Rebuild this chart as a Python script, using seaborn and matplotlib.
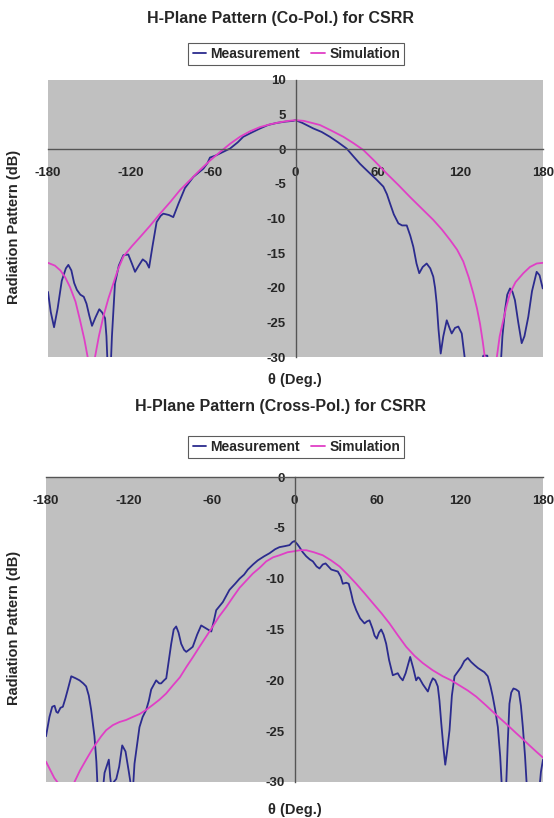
import pandas as pd
import matplotlib
matplotlib.use("Agg")
import matplotlib.pyplot as plt
import seaborn as sns

# --- Co-Pol. (top chart) ---
co_meas_deg = [-180, -178, -175.6, -173, -170, -167, -165.2, -163, -161, -159, -156.5, -154, -152, -150,
               -148, -145.5, -142.7, -140.5, -138.5, -137.5, -136.5, -134.5, -133.5, -131.3, -128.5,
               -125.2, -121.6, -119, -116.7, -114, -111.1, -108.5, -106.5, -104, -101, -98, -96.1, -92,
               -88.9, -85, -80.4, -74.3, -67, -64, -62.2, -58, -54.9, -47.6, -42, -38, -32, -25.8, -20,
               -13.7, -7, -1.6, 0, 5, 9, 13, 19, 25, 31, 37.2, 42, 46.9, 50, 54.2, 59, 63.9, 66.5, 68.7,
               71.5, 74.8, 77.5, 80.9, 83.5, 85.7, 88, 90, 92.5, 95.4, 98, 100.2, 101.5, 102.7, 104,
               105.6, 107.5, 110, 112, 113.6, 116, 118.4, 120.9, 123.3, 125, 133, 136.6, 139.5, 141,
               148.7, 150.5, 152.4, 154, 156, 157.8, 159.6, 162, 164.5, 166.5, 169.3, 172, 175.4,
               177.5, 179.8]
co_meas_db = [-20.6, -23.5, -25.7, -23, -19, -17.2, -16.7, -17.5, -19.3, -20.3, -21.0, -21.3, -22.3, -24,
              -25.5, -24.3, -23.1, -23.6, -24.4, -27, -32, -32, -27, -19.4, -16.8,
              -15.3, -15.2, -16.5, -17.7, -16.8, -15.9, -16.3, -17.1, -14, -10.5, -9.6, -9.3, -9.5,
              -9.8, -7.8, -5.6, -4.0, -2.8, -2.0, -1.2, -0.9, -0.6, 0.1, 1.0, 1.8, 2.4, 3.0, 3.5,
              3.8, 4.0, 4.1, 4.2, 3.8, 3.4, 3.0, 2.5, 1.8, 1.0, 0.1, -1.0, -2.1, -2.7, -3.5, -4.4, -5.4, -6.5, -7.8,
              -9.4, -10.7, -11.0, -11.0, -12.5, -14.1, -16.5, -17.9, -17.0, -16.5, -17.2, -18.4, -20, -22.3, -26,
              -29.5, -27, -24.7, -25.8, -26.6, -25.8, -25.6, -26.6, -30.5, -33, -33, -29.8, -29.8, -33,
              -33, -27, -23.2, -21, -20.1, -20.6, -21.8, -25, -28.0, -27, -24.2, -20.5, -17.7,
              -18.2, -20.1]

co_sim_deg = [-180, -175, -171, -167.5, -164, -160, -156.7, -153.5, -150.7, -148.5, -146.5, -145.8, -143,
              -139.8, -136, -132.5, -129, -125.2, -119, -113.1, -106, -98.5, -91, -84, -76.5, -69.5, -62,
              -54.9, -47.5, -40.4, -33, -25.8, -18.5, -11.3, -5, 0, 6, 12, 17.8, 26, 34.8, 42, 49.3, 57.5,
              66.3, 75, 83.3, 92, 100.2, 106.5, 112.4, 117.5, 122, 126, 129.3, 132, 134.2, 136.2, 137.8,
              140, 144, 146.3, 148.5, 151.1, 153.5, 156, 160, 165.7, 170.5, 175.4, 180]
co_sim_db = [-16.4, -16.8, -17.5, -18.5, -19.9, -22, -24.7, -27.5, -30.5, -34, -31, -30, -27,
             -24.2, -21.5, -19.4, -17.3, -15.5, -14, -12.7, -11.1, -9.3, -7.6, -5.9, -4.4, -3.0, -1.6,
             -0.4, 0.8, 1.8, 2.6, 3.2, 3.6, 3.9, 4.1, 4.2, 4.1, 3.8, 3.5, 2.7, 1.8, 0.9, -0.1, -1.7,
             -3.5, -5.2, -6.9, -8.6, -10.2, -11.6, -13.1, -14.5, -16.2, -18.5, -20.8, -23, -25.2, -27.8, -30.2,
             -34, -34, -30.2, -27, -24.7, -22.6, -20.8, -19.2, -17.9, -17.0, -16.5, -16.4]

# --- Cross-Pol. (bottom chart) ---
x_meas_deg = [-180, -177.5, -175.5, -173.8, -172.5, -171.4, -169.5, -167.8, -166, -164.2, -161.7, -158.5,
              -155.7, -153, -150.9, -149, -147.3, -144.9, -143.5, -142.5, -139, -137.6, -134.5, -133.5,
              -132.8, -129.1, -127, -124.8, -122.4, -120, -118.3, -116.8, -115.9, -114, -112.3, -110,
              -107.4, -105.5, -103.8, -100.2, -98, -96.6, -94.5, -92.9, -91, -89.3, -87.5, -85.7, -84,
              -82.1, -80, -78.4, -75.5, -73.7, -70.5, -67.6, -64, -60.3, -58.5, -56.7, -51.9, -47.1, -43,
              -39.8, -36.5, -33.8, -30, -26.6, -22, -18.1, -14, -10.9, -7, -3.6, -1.5, 0, 2, 3.6, 6, 8.5,
              11, 13.3, 16, 18.1, 20.5, 22.5, 24.5, 26.6, 29, 31.4, 33.5, 35, 37.5, 39.3, 41, 42.5, 44.7,
              47.5, 50.7, 52.5, 54.3, 56.5, 58, 59.6, 61.2, 62.8, 64.5, 66.4, 68.5, 71.2, 73, 74.8, 76.5,
              78.4, 80.5, 83.8, 86, 88.1, 89.5, 90.5, 93, 96.6, 98.5, 100.2, 102, 103.8, 105, 106.3, 108,
              109.2, 110.5, 112.3, 114, 115.9, 118, 120.7, 123, 125.5, 128, 130.4, 133, 135.2, 137.5, 140,
              142, 143.6, 145.5, 147.3, 149, 150.2, 153.3, 154.5, 155.7, 157, 158.6, 160.5, 162.5, 164,
              165.4, 167, 168.3, 177.5, 178.5, 180]
x_meas_db = [-25.5, -23.6, -22.6, -22.5, -23.1, -23.2, -22.7, -22.6, -21.8, -20.9, -19.6, -19.8,
             -20.0, -20.3, -20.6, -21.5, -22.9, -25.5, -28, -31, -31, -29.1, -27.8, -29.5,
             -30.3, -29.7, -28.5, -26.4, -27.0, -29, -30.5, -30.2, -28.2, -26.3, -24.6, -23.6,
             -22.9, -22, -20.9, -20.0, -20.3, -20.3, -20.0, -19.8, -18, -16.4, -15.0, -14.7, -15.3,
             -16.4, -17.0, -17.2, -16.9, -16.7, -15.5, -14.6, -14.9, -15.2, -14.2, -13.1, -12.3, -11.1, -10.5,
             -10.0, -9.6, -9.1, -8.6, -8.2, -7.8, -7.5, -7.1, -6.9, -6.8, -6.7, -6.4, -6.3, -6.6, -6.9, -7.4, -7.8,
             -8.1, -8.3, -8.8, -9.0, -8.6, -8.5, -8.8, -9.1, -9.2, -9.3, -9.8, -10.5, -10.4, -10.5, -11.4, -12.3, -13.1,
             -13.9, -14.4, -14.2, -14.1, -14.9, -15.6, -15.9, -15.3, -15.0, -15.5, -16.4, -18, -19.5, -19.4, -19.3, -19.7,
             -20.0, -19.3, -17.7, -18.8, -20.0, -19.7, -19.8, -20.4, -21.1, -20.3, -19.8, -20.0, -20.6, -22, -24.2, -26.8,
             -28.3, -27, -24.9, -21.5, -19.6, -19.2, -18.7, -18.1, -17.8, -18.2, -18.5, -18.8, -19.0, -19.2, -19.6,
             -20.6, -21.6, -23, -24.6, -27.5, -30.5, -30.5, -26, -22.3, -21.2, -20.8, -20.9, -21.1, -22.5,
             -24.6, -27.5, -30.5, -30.5, -29, -27.8]

x_sim_deg = [-180, -177, -174, -170.2, -165, -160.1, -155.5, -150.9, -147, -143.6, -140, -136.4, -131.5,
             -126.8, -122, -117.1, -112, -107.4, -102.5, -97.8, -93, -88.1, -83, -78.4, -73.5, -68.8, -64,
             -59.2, -54.5, -49.5, -44.5, -39.8, -35, -30.2, -25, -20.5, -15.5, -10.9, -5, 0, 4, 8.5, 14,
             20.5, 26.5, 32.6, 38.5, 44.7, 50.5, 56.7, 63, 68.8, 75, 80.9, 87, 92.9, 100, 107.4, 113.5,
             119.5, 125.5, 131.6, 139, 146.1, 153.5, 160.6, 165.5, 170.2, 175, 180]
x_sim_db = [-28.0, -28.8, -29.6, -30.3, -30.8, -30.2, -28.9, -27.8, -26.9, -26.2, -25.5, -24.9, -24.4,
            -24.1, -23.9, -23.6, -23.3, -22.9, -22.4, -21.9, -21.3, -20.5, -19.7, -18.7, -17.7, -16.7, -15.7,
            -14.7, -13.7, -12.8, -11.8, -10.9, -10.2, -9.5, -8.9, -8.3, -7.9, -7.7, -7.4, -7.3, -7.2, -7.2, -7.4,
            -7.7, -8.2, -8.8, -9.6, -10.5, -11.4, -12.4, -13.4, -14.4, -15.6, -16.7, -17.6, -18.3, -19.0, -19.6, -20.0,
            -20.5, -21.0, -21.6, -22.5, -23.4, -24.3, -25.2, -25.8, -26.4, -27.0, -27.6]

sns.set_style("white")
plt.rcParams['font.family'] = ['Liberation Sans', 'DejaVu Sans']
plt.rcParams['font.weight'] = 'bold'
plt.rcParams['axes.unicode_minus'] = False

palette = {"Measurement": "#2b2b8e", "Simulation": "#e03fc6"}


def long_df(md, mv, sd, sv):
    a = pd.DataFrame({"deg": md, "db": mv, "series": "Measurement"})
    b = pd.DataFrame({"deg": sd, "db": sv, "series": "Simulation"})
    return pd.concat([a, b], ignore_index=True)


def draw(ax, df, ylim, yticks, legend_y):
    sns.lineplot(data=df, x="deg", y="db", hue="series", palette=palette, sort=False,
                 estimator=None, linewidth=1.3, ax=ax)
    ax.set_facecolor("#c0c0c0")
    ax.set_xlim(-180, 180)
    ax.set_ylim(*ylim)
    ax.set_xticks(range(-180, 181, 60))
    ax.set_yticks(yticks)
    for s in ("top", "right"):
        ax.spines[s].set_visible(False)
    for s in ("left", "bottom"):
        ax.spines[s].set_position(("data", 0))
        ax.spines[s].set_color("#555555")
        ax.spines[s].set_linewidth(1.0)
    ax.tick_params(axis="x", direction="out", length=4, pad=9, labelsize=9.5, color="#555555")
    ax.tick_params(axis="y", direction="out", length=4, pad=3, labelsize=9.5, color="#555555")
    ax.set_xlabel("")
    ax.set_ylabel("")
    sns.move_legend(ax, "center", bbox_to_anchor=(0.535, legend_y), bbox_transform=fig.transFigure,
                    ncol=2, title=None, frameon=True, fancybox=False, fontsize=10,
                    handlelength=1.0, handletextpad=0.3, columnspacing=0.8, borderpad=0.3)
    leg = ax.get_legend()
    leg.get_frame().set_edgecolor("#333333")
    leg.get_frame().set_linewidth(0.8)
    for ln in leg.get_lines():
        ln.set_linewidth(1.3)


fig = plt.figure(figsize=(5.54, 8.18), dpi=100)
ax1 = fig.add_axes([48 / 554, 1 - 357 / 818, 495 / 554, 277 / 818])
ax2 = fig.add_axes([46 / 554, 1 - 782 / 818, 497 / 554, 305 / 818])

draw(ax1, long_df(co_meas_deg, co_meas_db, co_sim_deg, co_sim_db), (-30, 10), range(-30, 11, 5), 1 - 54 / 818)
draw(ax2, long_df(x_meas_deg, x_meas_db, x_sim_deg, x_sim_db), (-30, 0), range(-30, 1, 5), 1 - 447 / 818)

fig.text(0.507, 1 - 18 / 818, "H-Plane Pattern (Co-Pol.) for CSRR", ha="center", va="center", fontsize=11.5)
fig.text(0.507, 1 - 406 / 818, "H-Plane Pattern (Cross-Pol.) for CSRR", ha="center", va="center", fontsize=11.5)
fig.text(295 / 554, 1 - 380 / 818, "θ (Deg.)", ha="center", va="center", fontsize=10.5)
fig.text(295 / 554, 1 - 810 / 818, "θ (Deg.)", ha="center", va="center", fontsize=10.5)
fig.text(14 / 554, 1 - 227 / 818, "Radiation Pattern (dB)", ha="center", va="center", rotation=90, fontsize=10.5)
fig.text(14 / 554, 1 - 628 / 818, "Radiation Pattern (dB)", ha="center", va="center", rotation=90, fontsize=10.5)

fig.savefig("out.png", dpi=100)
